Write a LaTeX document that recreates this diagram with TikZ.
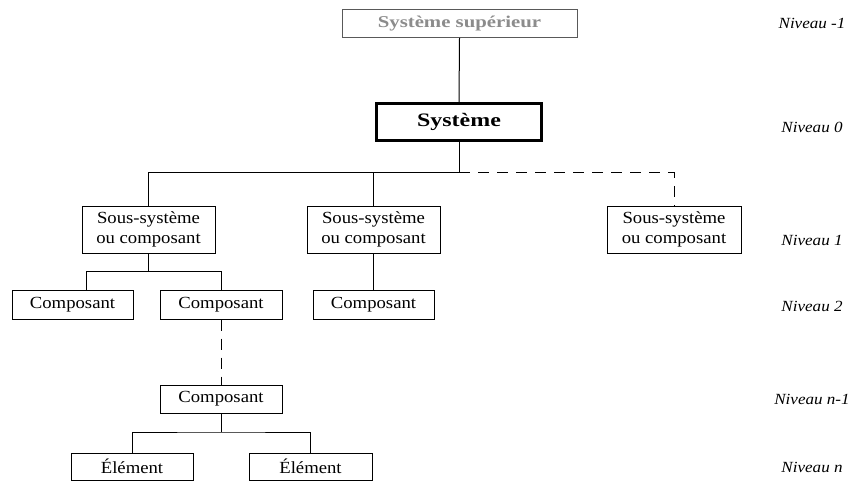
\documentclass[tikz,border=0pt]{standalone}
\usepackage{fontspec}
\setmainfont[FakeStretch=1.1]{Liberation Serif}
\newfontfamily\boldwide[FakeStretch=1.26]{Liberation Serif}
\begin{document}
\begin{tikzpicture}[x=1pt,y=-1pt,
  box/.style={draw=black,line width=1pt,rectangle,inner sep=0pt,align=center,
    font=\fontsize{17}{20}\selectfont},
  topbox/.style={draw=black!65,line width=1pt,rectangle,inner sep=0pt,
    text=black!45,font=\boldwide\bfseries\fontsize{16.5}{20}\selectfont},
  sysbox/.style={draw=black,line width=3pt,rectangle,inner sep=0pt,
    font=\boldwide\bfseries\fontsize{19}{22}\selectfont},
  lvl/.style={font=\itshape\fontsize{15.5}{18}\selectfont,inner sep=0pt},
  conn/.style={line width=1pt},
  dashline/.style={line width=1pt,dash pattern=on 11pt off 8pt}]
\useasboundingbox (0,0) rectangle (853,481);
\fill[white] (0,0) rectangle (853,481);

% boxes
\node[topbox,minimum width=235pt,minimum height=28pt] (top) at (459.5,23.5) {Système supérieur};
\node[sysbox,minimum width=165pt,minimum height=37pt] (sys) at (459,122) {Système};

\node[box,minimum width=133pt,minimum height=47pt] (ssA) at (148.5,229.5) {Sous-système\\ou composant};
\node[box,minimum width=133pt,minimum height=47pt] (ssB) at (373.5,229.5) {Sous-système\\ou composant};
\node[box,minimum width=134pt,minimum height=47pt] (ssC) at (674,229.5) {Sous-système\\ou composant};

\node[box,minimum width=121pt,minimum height=29pt] (cA) at (72.5,304.5) {Composant};
\node[box,minimum width=122pt,minimum height=29pt] (cB) at (221,304.5) {Composant};
\node[box,minimum width=121pt,minimum height=29pt] (cC) at (373.5,304.5) {Composant};

\node[box,minimum width=122pt,minimum height=28pt] (cN) at (221,399) {Composant};

\node[box,minimum width=122pt,minimum height=27pt] (eA) at (132,466.5) {Élément};
\node[box,minimum width=123pt,minimum height=27pt] (eB) at (310.5,466.5) {Élément};

% level labels
\node[lvl] (l1) at (812,23) {Niveau -1};
\node[lvl] (l2) at (812,127) {Niveau 0};
\node[lvl] (l3) at (812,240) {Niveau 1};
\node[lvl] (l4) at (812,306) {Niveau 2};
\node[lvl] (l5) at (812,399) {Niveau n-1};
\node[lvl] (l6) at (812,467) {Niveau n};

% junctions
\coordinate (j0) at (459,173);
\coordinate (j1) at (86,271);
\coordinate (j2) at (221,432);

% connectors
\draw[conn] (top.south) -- (sys.north);
\draw[conn] (sys.south) -- (j0);
\draw[conn] (ssA.north) |- (j0);
\draw[conn] (ssB.north) -- (ssB.north |- j0);
\draw[dashline] (j0) -| (ssC.north);

\draw[conn] (ssA.south) -- (ssA.south |- j1);
\draw[conn] (j1 |- cA.north) -- (j1) -| (cB.north);
\draw[conn] (ssB.south) -- (cC.north);

\draw[dashline] (cB.south) -- (cN.north);

\draw[conn] (cN.south) -- (j2);
\draw[conn] (eA.north) |- (j2) -| (eB.north);
\end{tikzpicture}
\end{document}
